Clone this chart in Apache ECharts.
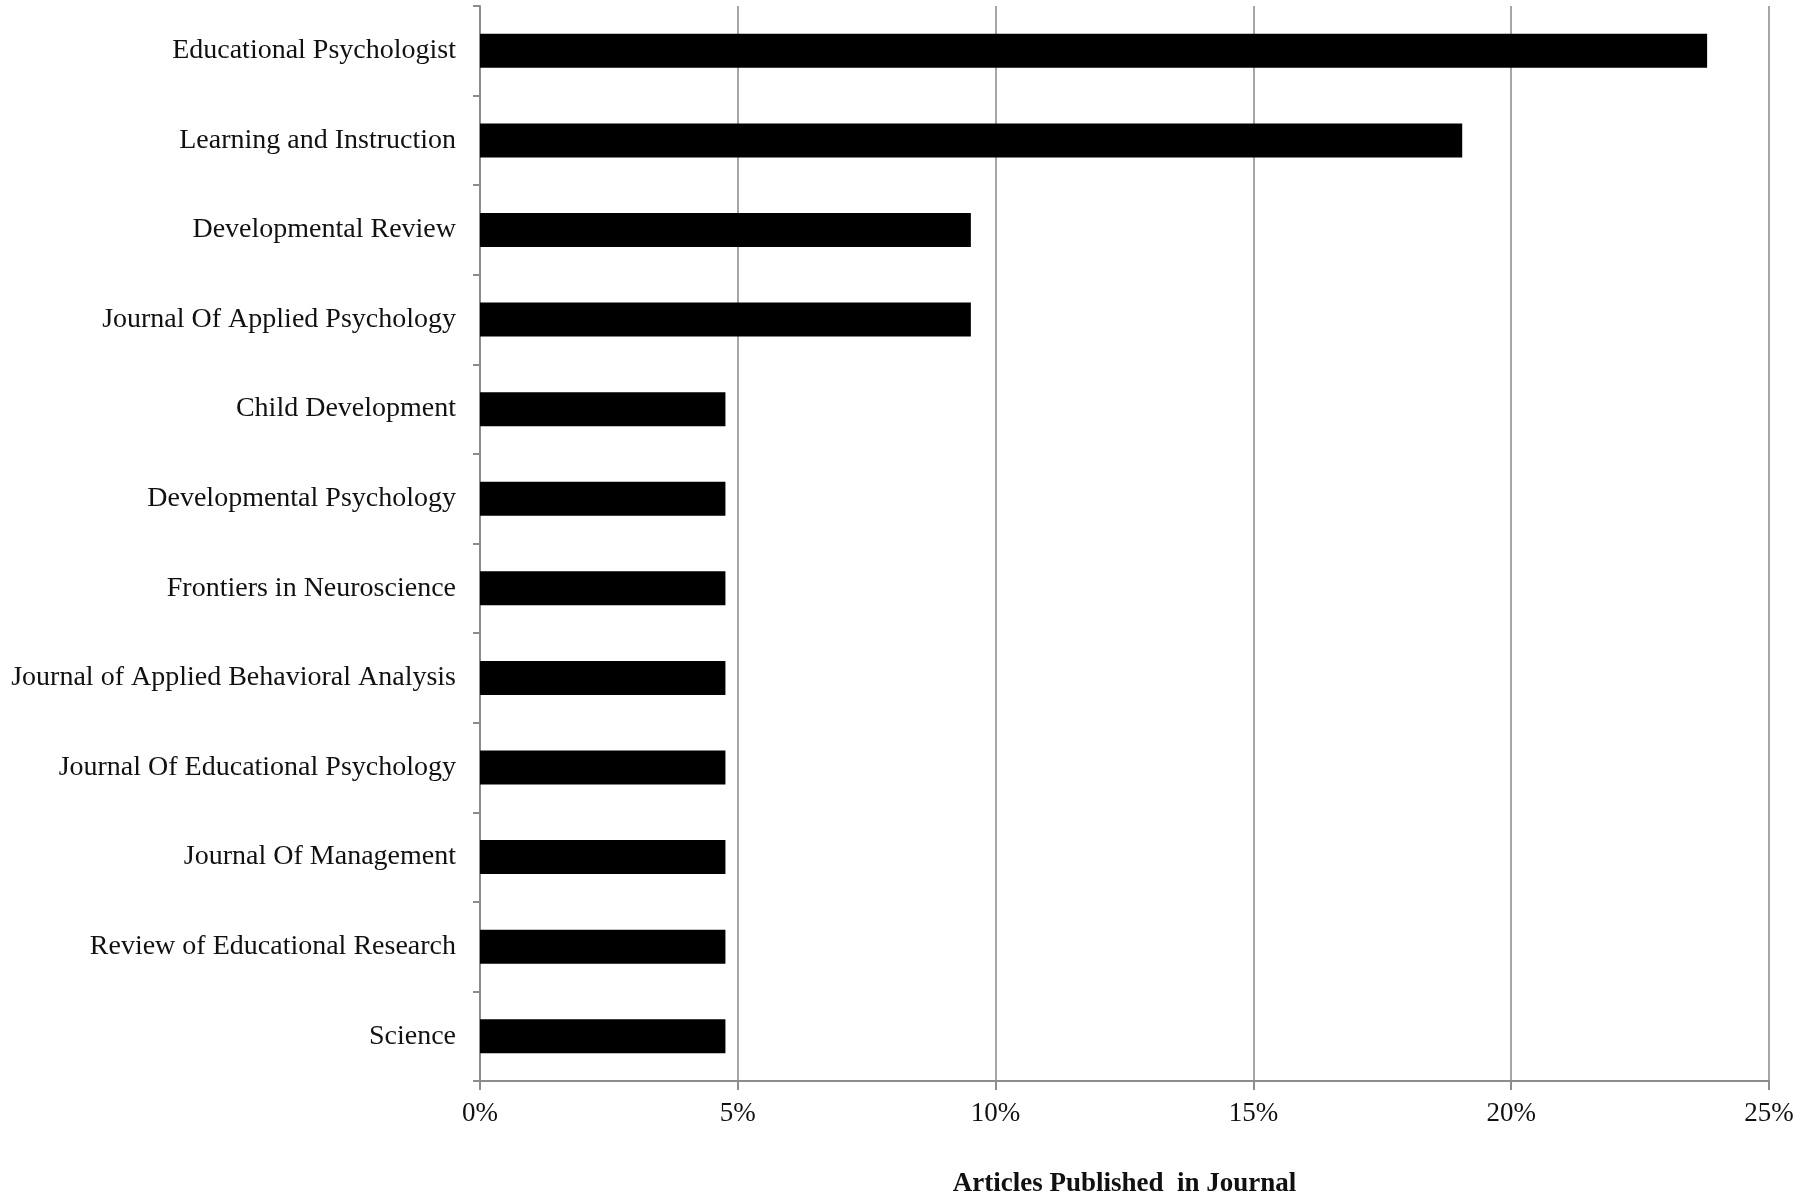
<!DOCTYPE html>
<html><head><meta charset="utf-8">
<script src="https://cdn.jsdelivr.net/npm/echarts@6/dist/echarts.min.js"></script>
<style>html,body{margin:0;padding:0;background:#fff}#c{width:1800px;height:1197px}</style>
</head><body><div id="c"></div>
<script>
const journals = [
  "Educational Psychologist",
  "Learning and Instruction",
  "Developmental Review",
  "Journal Of Applied Psychology",
  "Child Development",
  "Developmental Psychology",
  "Frontiers in Neuroscience",
  "Journal of Applied Behavioral Analysis",
  "Journal Of Educational Psychology",
  "Journal Of Management",
  "Review of Educational Research",
  "Science"
];
const percentValues = [23.8, 19.05, 9.52, 9.52, 4.76, 4.76, 4.76, 4.76, 4.76, 4.76, 4.76, 4.76];
const xTicks = [0, 5, 10, 15, 20, 25];
const axisTitle = "Articles Published  in Journal";

const chart = echarts.init(document.getElementById('c'), null, {renderer:'canvas'});
const font = "'Liberation Serif', 'Times New Roman', serif";
chart.setOption({
  animation:false,
  grid:{left:480, right:31, top:6, bottom:116, containLabel:false, outerBoundsMode:'none'},
  xAxis:{
    type:'value', min:xTicks[0], max:xTicks[xTicks.length-1], interval:5,
    axisLine:{show:true, lineStyle:{color:'#8c8c8c', width:2}},
    axisTick:{show:true, length:9, lineStyle:{color:'#8c8c8c', width:2}},
    splitLine:{show:true, lineStyle:{color:'#a6a6a6', width:2}},
    axisLabel:{formatter: v => v + '%', fontFamily:font, fontSize:27, color:'#111', margin:19},
    name: axisTitle, nameLocation:'middle', nameGap:90,
    nameTextStyle:{fontFamily:font, fontSize:27, fontWeight:'bold', color:'#111'}
  },
  yAxis:{
    type:'category', data:journals, inverse:true,
    axisLine:{show:true, lineStyle:{color:'#8c8c8c', width:2}},
    axisTick:{show:true, length:7, alignWithLabel:false, lineStyle:{color:'#8c8c8c', width:2}},
    axisLabel:{fontFamily:font, fontSize:28, color:'#111', margin:24}
  },
  series:[{
    type:'bar', data:percentValues, barWidth:34,
    itemStyle:{color:'#000'}
  }]
});
</script></body></html>
